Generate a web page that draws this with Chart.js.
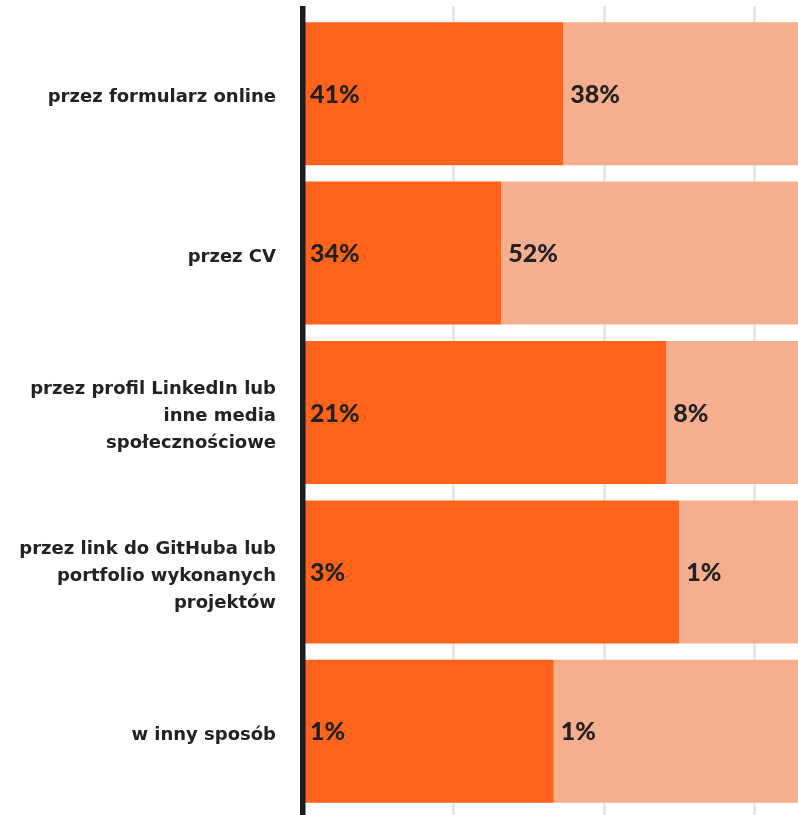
<!DOCTYPE html>
<html>
<head>
<meta charset="utf-8">
<script src="https://cdn.jsdelivr.net/npm/chart.js@4.4.1/dist/chart.umd.min.js"></script>
<style>
  html, body { margin: 0; padding: 0; background: #fff; overflow: hidden; }
  canvas { display: block; }
</style>
</head>
<body>
<canvas id="myChart" width="798" height="815"></canvas>
<script>
const categories = [
    "przez formularz online",
    "przez CV",
    ["przez profil LinkedIn lub", "inne media", "społecznościowe"],
    ["przez link do GitHuba lub", "portfolio wykonanych", "projektów"],
    "w inny sposób"
];
const firstValues = [41, 34, 21, 3, 1];
const secondValues = [38, 52, 8, 1, 1];
const gridValues = [0.3, 0.6, 0.9];

// each bar is split by the share of the two answers
const firstShare = firstValues.map((v, i) => v / (v + secondValues[i]));
const secondShare = secondValues.map((v, i) => v / (v + firstValues[i]));

const labelsPlugin = {
    id: 'labels',
    beforeDatasetsDraw(chart){
        const ctx = chart.ctx;
        const x = chart.scales.x;
        ctx.save();
        ctx.strokeStyle = '#e8e8e8';
        ctx.lineWidth = 3;
        gridValues.forEach(v => {
            const px = Math.round(x.getPixelForValue(v)) + 0.5;
            ctx.beginPath();
            ctx.moveTo(px, 6);
            ctx.lineTo(px, chart.height);
            ctx.stroke();
        });
        ctx.restore();
    },
    afterDatasetsDraw(chart){
        const ctx = chart.ctx;
        const x = chart.scales.x;
        ctx.save();
        // axis line
        ctx.fillStyle = '#1b1b1b';
        ctx.fillRect(x.getPixelForValue(0) - 3, 6, 5.5, chart.height);

        ctx.font = '900 25px Lato';
        ctx.fillStyle = '#222';
        ctx.textBaseline = 'middle';
        ctx.textAlign = 'left';
        const raw = [firstValues, secondValues];
        chart.data.datasets.forEach((ds, di) => {
            chart.getDatasetMeta(di).data.forEach((bar, i) => {
                const start = Math.min(bar.x, bar.base);
                ctx.fillText(raw[di][i] + '%', start + 7, bar.y + 1);
            });
        });
        ctx.restore();
    }
};

new Chart(document.getElementById('myChart'), {
    type: 'bar',
    data: {
        labels: categories,
        datasets: [
            {
                data: firstShare,
                backgroundColor: '#ff631c',
                barPercentage: 1,
                categoryPercentage: 0.897
            },
            {
                data: secondShare,
                backgroundColor: '#f5af8e',
                barPercentage: 1,
                categoryPercentage: 0.897
            }
        ]
    },
    options: {
        indexAxis: 'y',
        responsive: false,
        animation: false,
        devicePixelRatio: 1,
        layout: { padding: { top: 14, bottom: 4, left: 0, right: 0 } },
        plugins: {
            legend: { display: false },
            tooltip: { enabled: false }
        },
        scales: {
            x: {
                stacked: true,
                min: 0,
                max: 0.987,
                display: false
            },
            y: {
                stacked: true,
                grid: { display: false, drawTicks: false },
                border: { display: false },
                ticks: {
                    color: '#222',
                    padding: 27,
                    labelOffset: 4,
                    font: { family: 'DejaVu Sans', weight: 'bold', size: 18, lineHeight: 1.5 }
                },
                afterFit(scale){
                    scale.width = 303;
                    scale.paddingTop = 0;
                    scale.paddingBottom = 0;
                }
            }
        }
    },
    plugins: [labelsPlugin]
});
</script>
</body>
</html>
